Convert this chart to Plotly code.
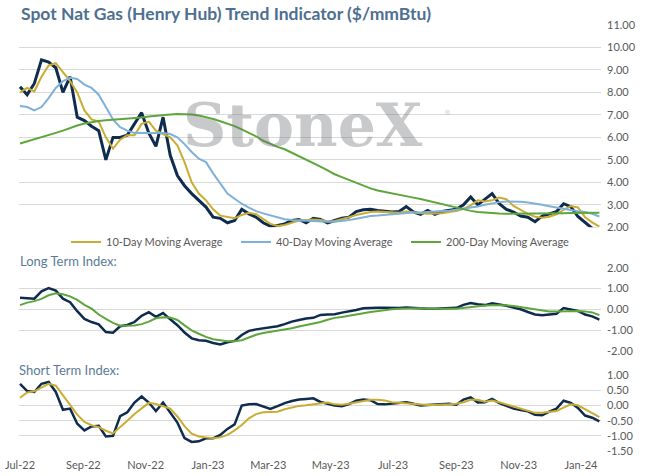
import pandas as pd
import plotly.graph_objects as go

# weekly sampling, Jul-22 .. Jan-24
dates = pd.date_range('2022-07-01', periods=82, freq='7D')

price = [8.25, 7.9, 8.4, 9.45, 9.35, 9.1, 8.0, 8.7, 6.9, 6.75,
         6.5, 6.3, 5.0, 6.0, 6.0, 6.1, 6.6, 7.1, 6.2, 5.6,
         6.9, 5.2, 4.3, 3.85, 3.5, 3.2, 2.9, 2.45, 2.4, 2.2,
         2.3, 2.8, 2.6, 2.45, 2.2, 2.05, 2.08, 2.15, 2.3, 2.35,
         2.2, 2.4, 2.35, 2.2, 2.3, 2.4, 2.45, 2.7, 2.78, 2.8,
         2.75, 2.7, 2.68, 2.7, 2.92, 2.68, 2.58, 2.75, 2.58, 2.7,
         2.75, 2.8, 3.0, 3.35, 3.0, 3.25, 3.5, 3.05, 2.8, 2.68,
         2.5, 2.45, 2.25, 2.5, 2.6, 2.7, 3.05, 2.92, 2.48, 2.2,
         1.95, 1.9]
ma10 = [8.0, 8.2, 8.05, 8.7, 9.2, 9.3, 8.9, 8.5, 8.0, 7.2,
        6.8, 6.7, 6.0, 5.5, 5.9, 6.1, 6.1, 6.6, 6.7, 6.3,
        6.15, 6.0, 5.65, 4.9, 4.0, 3.5, 3.2, 2.8, 2.52, 2.45,
        2.4, 2.55, 2.65, 2.58, 2.35, 2.15, 2.06, 2.1, 2.2, 2.3,
        2.33, 2.35, 2.33, 2.27, 2.28, 2.35, 2.45, 2.55, 2.62, 2.68,
        2.7, 2.68, 2.66, 2.65, 2.7, 2.68, 2.63, 2.6, 2.6, 2.62,
        2.68, 2.72, 2.82, 2.98, 3.2, 3.15, 3.2, 3.32, 3.25, 2.95,
        2.77, 2.6, 2.47, 2.43, 2.47, 2.58, 2.78, 2.95, 2.88, 2.45,
        2.22, 2.03]
ma40 = [7.4, 7.35, 7.2, 7.35, 7.75, 8.2, 8.5, 8.65, 8.6, 8.35,
        8.2, 7.9, 7.35, 6.8, 6.45, 6.3, 6.2, 6.2, 6.2, 6.2,
        6.2, 6.15, 6.0, 5.7, 5.35, 5.05, 4.9, 4.4, 3.95, 3.5,
        3.27, 3.05, 2.88, 2.72, 2.62, 2.53, 2.42, 2.36, 2.32, 2.3,
        2.28, 2.26, 2.25, 2.25, 2.25, 2.28, 2.32, 2.38, 2.44, 2.5,
        2.52, 2.55, 2.58, 2.62, 2.65, 2.66, 2.66, 2.67, 2.7, 2.72,
        2.74, 2.78, 2.84, 2.88, 2.93, 3.0, 3.07, 3.12, 3.15, 3.15,
        3.14, 3.1, 3.06, 3.0, 2.94, 2.88, 2.8, 2.77, 2.72, 2.68,
        2.6, 2.48]
ma200 = [5.73, 5.82, 5.9, 6.0, 6.1, 6.2, 6.3, 6.42, 6.53, 6.62,
         6.69, 6.73, 6.76, 6.78, 6.8, 6.82, 6.85, 6.88, 6.93, 6.97,
         7.0, 7.02, 7.04, 7.04, 7.02, 6.97, 6.9, 6.82, 6.72, 6.62,
         6.5, 6.36, 6.2, 6.05, 5.85, 5.7, 5.58, 5.47, 5.32, 5.15,
         5.0, 4.85, 4.7, 4.53, 4.36, 4.23, 4.1, 3.96, 3.85, 3.73,
         3.64, 3.57, 3.5, 3.43, 3.36, 3.32, 3.26, 3.18, 3.1, 3.03,
         2.95, 2.87, 2.78, 2.73, 2.68, 2.65, 2.63, 2.61, 2.6, 2.6,
         2.6, 2.61, 2.61, 2.62, 2.62, 2.63, 2.63, 2.64, 2.65, 2.65,
         2.65, 2.65]

long_idx = [0.56, 0.55, 0.52, 0.87, 1.02, 0.9, 0.52, 0.35, -0.08, -0.45,
            -0.6, -0.71, -1.08, -1.11, -0.8, -0.74, -0.6, -0.3, -0.13, -0.35,
            -0.17, -0.47, -0.75, -1.1, -1.38, -1.47, -1.5, -1.6, -1.67, -1.57,
            -1.5, -1.22, -1.02, -0.95, -0.91, -0.86, -0.8, -0.7, -0.58, -0.5,
            -0.43, -0.4, -0.26, -0.24, -0.23, -0.15, -0.1, -0.02, 0.06, 0.08,
            0.08, 0.08, 0.07, 0.07, 0.1, 0.07, 0.05, 0.03, 0.03, 0.05,
            0.06, 0.08, 0.22, 0.31, 0.25, 0.21, 0.3, 0.25, 0.18, 0.09,
            0.01, -0.12, -0.24, -0.27, -0.24, -0.2, 0.07, 0.0, -0.07, -0.24,
            -0.33, -0.48]
long_avg = [0.21, 0.33, 0.4, 0.51, 0.68, 0.78, 0.73, 0.63, 0.46, 0.22,
            0.04, -0.24, -0.45, -0.64, -0.78, -0.79, -0.77, -0.7, -0.58, -0.42,
            -0.37, -0.38, -0.5, -0.76, -1.0, -1.16, -1.31, -1.42, -1.48, -1.52,
            -1.52, -1.47, -1.34, -1.21, -1.12, -1.07, -1.02, -0.96, -0.9, -0.81,
            -0.74, -0.68, -0.6, -0.49, -0.4, -0.36, -0.31, -0.24, -0.18, -0.12,
            -0.07, -0.02, 0.01, 0.03, 0.05, 0.06, 0.06, 0.04, 0.03, 0.03,
            0.03, 0.04, 0.08, 0.12, 0.16, 0.19, 0.2, 0.21, 0.2, 0.17,
            0.12, 0.06, 0.0, -0.06, -0.1, -0.1, -0.08, -0.07, -0.07, -0.09,
            -0.14, -0.27]

short_idx = [0.72, 0.48, 0.45, 0.72, 0.78, 0.45, -0.14, -0.1, -0.6, -0.82,
             -0.69, -0.67, -1.02, -1.0, -0.35, -0.22, 0.1, 0.3, 0.1, -0.18,
             0.1, -0.22, -0.56, -1.07, -1.2, -1.18, -1.08, -1.08, -0.97, -0.77,
             -0.62, 0.0, 0.04, 0.05, -0.02, -0.11, -0.02, 0.08, 0.15, 0.2,
             0.22, 0.24, 0.12, 0.05, 0.0, -0.02, 0.05, 0.16, 0.2, 0.18,
             0.05, 0.04, 0.06, 0.07, 0.11, 0.06, 0.0, 0.02, 0.03, 0.04,
             0.06, 0.03, 0.2, 0.27, 0.1, 0.11, 0.22, 0.08, -0.01, -0.1,
             -0.15, -0.19, -0.3, -0.32, -0.2, -0.1, 0.16, 0.09, -0.08, -0.33,
             -0.4, -0.52]
short_avg = [0.26, 0.43, 0.47, 0.59, 0.72, 0.66, 0.33, 0.0, -0.3, -0.54,
             -0.65, -0.71, -0.83, -0.92, -0.72, -0.5, -0.28, -0.09, 0.09, 0.05,
             -0.03, -0.1, -0.36, -0.68, -0.93, -1.02, -1.05, -1.08, -1.05, -0.97,
             -0.82, -0.64, -0.42, -0.28, -0.22, -0.22, -0.2, -0.12, -0.06, -0.01,
             0.01, 0.04, 0.08, 0.1, 0.04, 0.03, 0.06, 0.1, 0.15, 0.19,
             0.19, 0.17, 0.11, 0.09, 0.08, 0.06, 0.05, 0.02, 0.02, 0.02,
             0.04, 0.06, 0.11, 0.19, 0.19, 0.13, 0.17, 0.11, 0.04, -0.02,
             -0.08, -0.16, -0.24, -0.24, -0.22, -0.18, -0.07, 0.04, 0.01, -0.11,
             -0.25, -0.38]

price_ticks = [2, 3, 4, 5, 6, 7, 8, 9, 10, 11]
long_ticks = [-2, -1, 0, 1, 2]
short_ticks = [-1.5, -1.0, -0.5, 0.0, 0.5, 1.0]

NAVY = '#0f2c4f'
GOLD = '#c8ad32'
BLUE = '#7db1da'
GREEN = '#5ea63b'
GRID = '#d9d9d9'
TXT = '#595959'
FONT = 'Lato'

W, H = 645, 476
L, R = 19, 601            # plot area left/right edge in pixels

def py(px):  # pixel row -> paper y
    return 1 - px / H

def pxp(px):  # pixel column -> paper x
    return (px - L) / (R - L)

fig = go.Figure()
fig.add_trace(go.Scatter(x=dates, y=price, mode='lines', line=dict(color=NAVY, width=3),
                         showlegend=False, xaxis='x', yaxis='y'))
fig.add_trace(go.Scatter(x=dates, y=ma10, mode='lines', name='10-Day Moving Average',
                         line=dict(color=GOLD, width=2), xaxis='x', yaxis='y'))
fig.add_trace(go.Scatter(x=dates, y=ma40, mode='lines', name='40-Day Moving Average',
                         line=dict(color=BLUE, width=2), xaxis='x', yaxis='y'))
fig.add_trace(go.Scatter(x=dates, y=ma200, mode='lines', name='200-Day Moving Average',
                         line=dict(color=GREEN, width=2), xaxis='x', yaxis='y'))

fig.add_trace(go.Scatter(x=dates, y=long_idx, mode='lines', line=dict(color=NAVY, width=2.5),
                         showlegend=False, xaxis='x2', yaxis='y2'))
fig.add_trace(go.Scatter(x=dates, y=long_avg, mode='lines', line=dict(color=GREEN, width=2),
                         showlegend=False, xaxis='x2', yaxis='y2'))

fig.add_trace(go.Scatter(x=dates, y=short_idx, mode='lines', line=dict(color=NAVY, width=2.5),
                         showlegend=False, xaxis='x3', yaxis='y3'))
fig.add_trace(go.Scatter(x=dates, y=short_avg, mode='lines', line=dict(color=GOLD, width=2),
                         showlegend=False, xaxis='x3', yaxis='y3'))

xrange = ['2022-06-30', '2024-01-20 14:00']
xcommon = dict(range=xrange, type='date', showgrid=False, zeroline=False, automargin=False,
               tick0='2022-07-01', dtick='M2', tickformat='%b-%y')
ycommon = dict(side='right', showgrid=True, gridcolor=GRID, gridwidth=1, zeroline=False,
               automargin=False, tickfont=dict(family=FONT, size=11, color=TXT),
               ticklabelstandoff=5, fixedrange=True)

fig.update_layout(
    width=W, height=H,
    margin=dict(l=L, r=W - R, t=0, b=0),
    paper_bgcolor='white', plot_bgcolor='white',
    font=dict(family=FONT, color=TXT),
    xaxis=dict(xcommon, anchor='y', showticklabels=False),
    xaxis2=dict(xcommon, anchor='y2', matches='x', showticklabels=False),
    xaxis3=dict(xcommon, anchor='y3', matches='x', showticklabels=True,
                tickfont=dict(family=FONT, size=11, color=TXT), ticklabelstandoff=6,
                ticklabeloverflow='allow'),
    xaxis4=dict(xcommon, anchor='y3', overlaying='x3', matches='x', side='top',
                showticklabels=False, ticks='inside', ticklen=4, tickcolor='#cfcfcf', tickwidth=1),
    yaxis=dict(ycommon, domain=[py(227.3), py(25)], range=[2, 11],
               tickvals=price_ticks, ticktext=[f'{v:.2f}' for v in price_ticks]),
    yaxis2=dict(ycommon, domain=[py(351.3), py(267.7)], range=[-2, 2],
                tickvals=long_ticks, ticktext=[f'{v:.2f}' for v in long_ticks]),
    yaxis3=dict(ycommon, domain=[py(451), py(375.3)], range=[-1.5, 1.0],
                tickvals=short_ticks, ticktext=[f'{v:.2f}' for v in short_ticks]),
    legend=dict(orientation='h', x=pxp(66), xanchor='left', y=py(242), yanchor='middle',
                font=dict(family=FONT, size=11, color=TXT), entrywidth=125,
                entrywidthmode='pixels', bgcolor='rgba(0,0,0,0)', tracegroupgap=0),
    showlegend=True,
)

fig.add_annotation(text='<b>Spot Nat Gas (Henry Hub) Trend Indicator ($/mmBtu)</b>',
                   xref='paper', yref='paper', x=pxp(19), y=py(13), xanchor='left',
                   yanchor='middle', showarrow=False,
                   font=dict(family=FONT, size=17.5, color='#4e7090'))
fig.add_annotation(text='Long Term Index:', xref='paper', yref='paper', x=pxp(18), y=py(261),
                   xanchor='left', yanchor='middle', showarrow=False,
                   font=dict(family=FONT, size=13, color='#5a7c98'))
fig.add_annotation(text='Short Term Index:', xref='paper', yref='paper', x=pxp(17),
                   y=py(370), xanchor='left', yanchor='middle', showarrow=False,
                   font=dict(family=FONT, size=13, color='#5a7c98'))
# watermark
fig.add_annotation(text='StoneX', xref='paper', yref='paper',
                   x=pxp(303), y=py(125), xanchor='center', yanchor='middle', showarrow=False,
                   font=dict(family='DejaVu Serif', size=60, color='rgba(110,112,118,0.38)',
                             weight='bold'))
fig.add_annotation(text='®', xref='paper', yref='paper', x=pxp(447), y=py(113),
                   xanchor='center', yanchor='middle', showarrow=False,
                   font=dict(family='DejaVu Sans', size=7, color='rgba(110,112,118,0.4)'))

# drop the default 8px body margin so the figure sits at the page origin
fig.write_html('out.html', config={'displayModeBar': False},
               post_script="document.body.style.margin='0';")
